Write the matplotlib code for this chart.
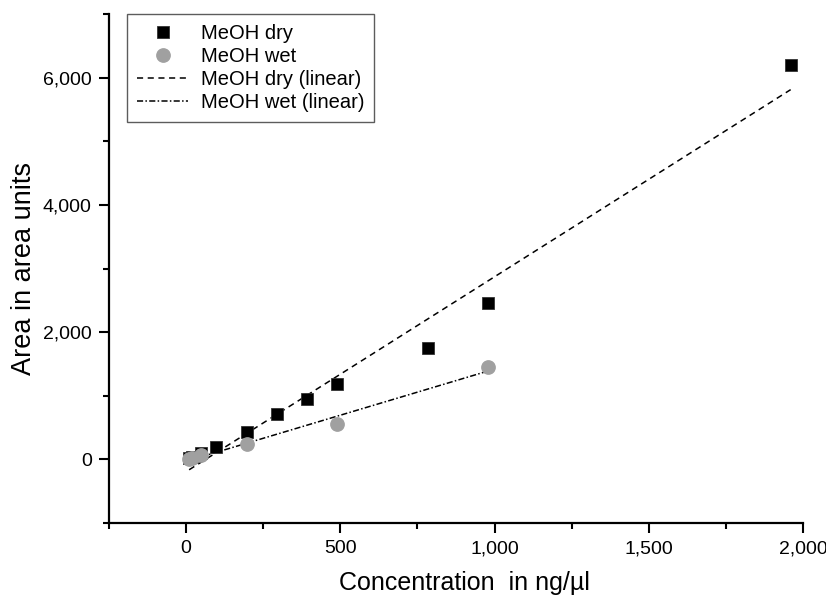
import matplotlib
matplotlib.use("Agg")
import matplotlib.pyplot as plt
import numpy as np
from matplotlib.ticker import MultipleLocator, FuncFormatter

plt.rcParams['font.family'] = ['Liberation Sans', 'DejaVu Sans']

# Data
dry_conc = [9.8, 19.6, 49, 98, 196, 294, 392, 490, 784, 980, 1960]
dry_area = [20, 45, 95, 190, 426, 710, 946, 1183, 1750, 2460, 6200]
wet_conc = [9.8, 19.6, 49, 196, 490, 980]
wet_area = [10, 20, 70, 237, 552, 1455]

fig = plt.figure(figsize=(8.26, 5.99), dpi=100)
ax = fig.add_axes([109/826, 1 - 523/599, (803-109)/826, (523-14)/599])

ax.plot(dry_conc, dry_area, linestyle='none', marker='s', markersize=8.4,
        color='black', markeredgecolor='#333333', markeredgewidth=0.6, label='MeOH dry', zorder=3)
ax.plot(wet_conc, wet_area, linestyle='none', marker='o', markersize=9.6,
        color='#a0a0a0', markeredgecolor='#a0a0a0', label='MeOH wet', zorder=4)

# linear fits
xd = np.array(dry_conc); yd = np.array(dry_area)
kd, bd = np.polyfit(xd, yd, 1)
xfd = np.array([xd.min(), xd.max()])
ax.plot(xfd, kd*xfd + bd, color='black', lw=1.1, linestyle=(0, (4, 3)),
        label='MeOH dry (linear)', zorder=2)
xw = np.array(wet_conc); yw = np.array(wet_area)
kw, bw = np.polyfit(xw, yw, 1)
xfw = np.array([xw.min(), xw.max()])
ax.plot(xfw, kw*xfw + bw, color='black', lw=1.1, linestyle=(0, (4, 1.5, 1, 1.5)),
        label='MeOH wet (linear)', zorder=2)

ax.set_xlim(-250, 2000)
ax.set_ylim(-1000, 7000)
ax.xaxis.set_major_locator(MultipleLocator(500))
ax.xaxis.set_minor_locator(MultipleLocator(250))
ax.yaxis.set_major_locator(MultipleLocator(2000))
ax.yaxis.set_minor_locator(MultipleLocator(1000))
fmt = FuncFormatter(lambda v, p: f"{int(round(v)):,}")
ax.xaxis.set_major_formatter(fmt)
ax.yaxis.set_major_formatter(fmt)

for s in ['top', 'right']:
    ax.spines[s].set_visible(False)
for s in ['left', 'bottom']:
    ax.spines[s].set_linewidth(1.6)
ax.tick_params(which='major', length=7.5, width=1.5, labelsize=14, pad=5, direction='out')
ax.tick_params(which='minor', length=4, width=1.5, direction='out')

ax.set_xlabel('Concentration  in ng/µl', fontsize=18)
ax.xaxis.set_label_coords(0.512, -0.094)
ax.set_ylabel('Area in area units', fontsize=19.5, labelpad=4)

leg = ax.legend(loc='upper left', bbox_to_anchor=(0.026, 1.0), borderaxespad=0,
                fontsize=14.5, frameon=True, fancybox=False, edgecolor='#333333',
                labelspacing=0.2, handlelength=2.55, handletextpad=0.6, borderpad=0.5,
                numpoints=1)
leg.get_frame().set_linewidth(1.0)

fig.savefig('out.png', dpi=100)
